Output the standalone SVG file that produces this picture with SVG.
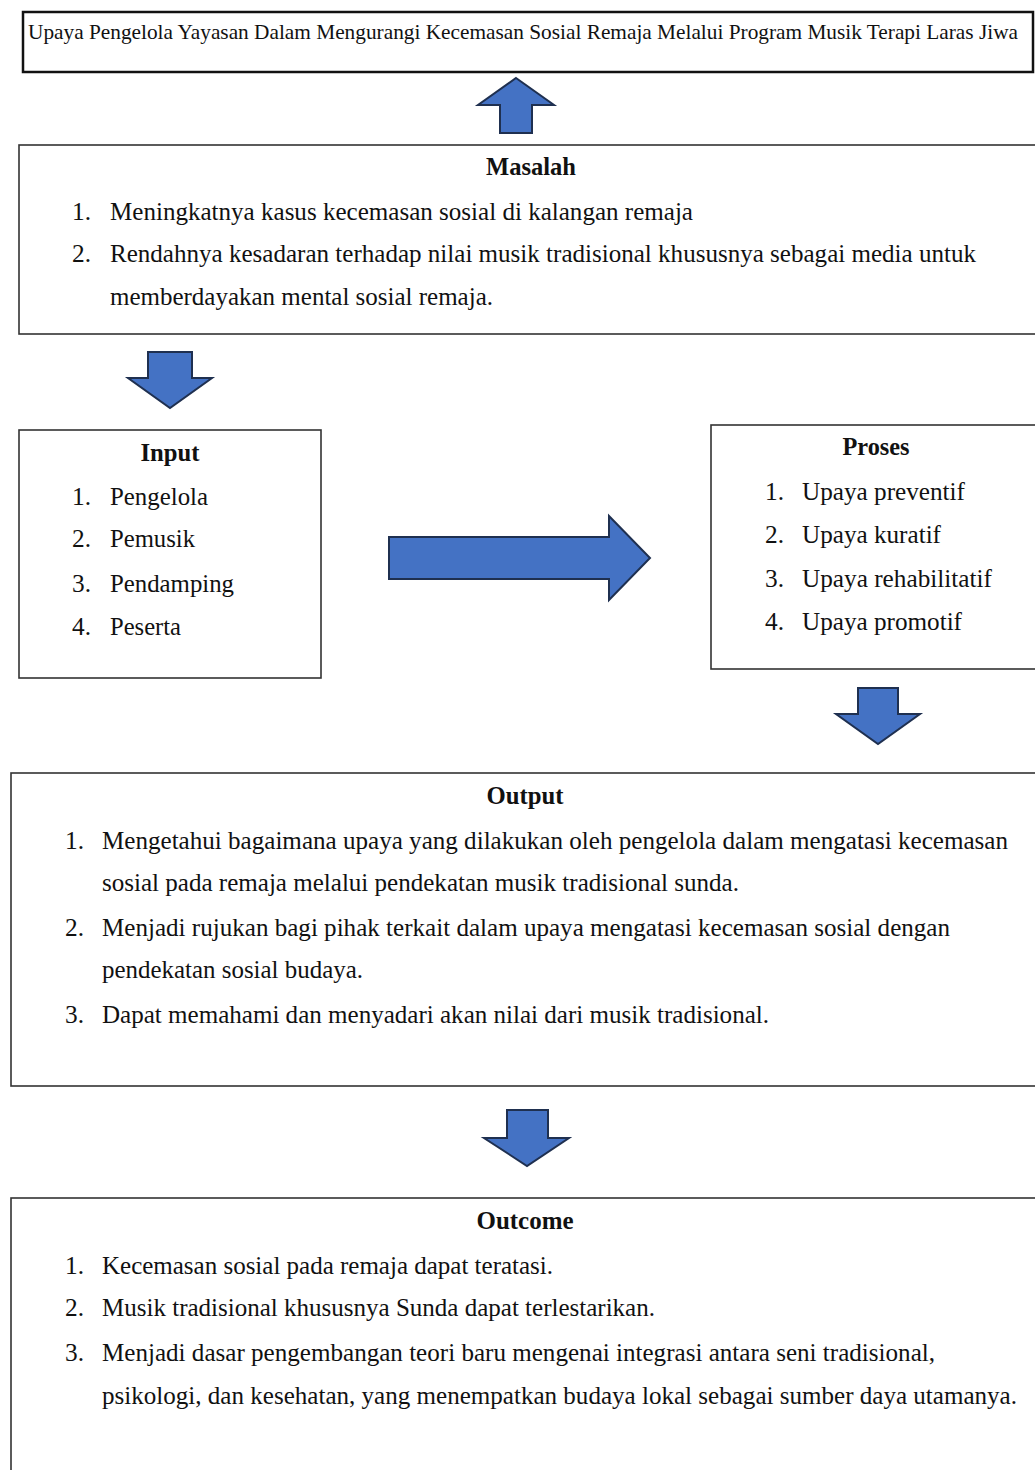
<svg xmlns="http://www.w3.org/2000/svg" width="1035" height="1470" viewBox="0 0 1035 1470">
<style>
.bx{fill:#fff;stroke:#333;stroke-width:1.6}
.ar{fill:#4472C4;stroke:#1F3050;stroke-width:2;stroke-linejoin:miter}
text{font-family:"Liberation Serif","Times New Roman",serif;fill:#111;font-size:25px}
.h{font-weight:bold;text-anchor:middle}
.t{font-size:21px}
</style>
<rect width="1035" height="1470" fill="#fff"/>
<g id="title">
<rect x="23" y="12" width="1010" height="60" fill="#fff" stroke="#111" stroke-width="2.5"/>
<text class="t" x="28" y="39" textLength="990" lengthAdjust="spacingAndGlyphs">Upaya Pengelola Yayasan Dalam Mengurangi Kecemasan Sosial Remaja Melalui Program Musik Terapi Laras Jiwa</text>
</g>
<g id="masalah">
<rect class="bx" x="19" y="145" width="1030" height="189"/>
<text class="h" x="531" y="175" textLength="90" lengthAdjust="spacingAndGlyphs">Masalah</text>
<text x="72" y="220" textLength="19" lengthAdjust="spacingAndGlyphs">1.</text><text x="110" y="220" textLength="583" lengthAdjust="spacingAndGlyphs">Meningkatnya kasus kecemasan sosial di kalangan remaja</text>
<text x="72" y="262" textLength="19" lengthAdjust="spacingAndGlyphs">2.</text><text x="110" y="262" textLength="866" lengthAdjust="spacingAndGlyphs">Rendahnya kesadaran terhadap nilai musik tradisional khususnya sebagai media untuk</text>
<text x="110" y="305" textLength="383" lengthAdjust="spacingAndGlyphs">memberdayakan mental sosial remaja.</text>
</g>
<g id="input">
<rect class="bx" x="19" y="430" width="302" height="248"/>
<text class="h" x="170" y="461" textLength="59" lengthAdjust="spacingAndGlyphs">Input</text>
<text x="72" y="505" textLength="19" lengthAdjust="spacingAndGlyphs">1.</text><text x="110" y="505" textLength="98" lengthAdjust="spacingAndGlyphs">Pengelola</text>
<text x="72" y="547" textLength="19" lengthAdjust="spacingAndGlyphs">2.</text><text x="110" y="547" textLength="85" lengthAdjust="spacingAndGlyphs">Pemusik</text>
<text x="72" y="592" textLength="19" lengthAdjust="spacingAndGlyphs">3.</text><text x="110" y="592" textLength="124" lengthAdjust="spacingAndGlyphs">Pendamping</text>
<text x="72" y="635" textLength="19" lengthAdjust="spacingAndGlyphs">4.</text><text x="110" y="635" textLength="71" lengthAdjust="spacingAndGlyphs">Peserta</text>
</g>
<g id="proses">
<rect class="bx" x="711" y="425" width="340" height="244"/>
<text class="h" x="876" y="455" textLength="67" lengthAdjust="spacingAndGlyphs">Proses</text>
<text x="765" y="500" textLength="19" lengthAdjust="spacingAndGlyphs">1.</text><text x="802" y="500" textLength="163" lengthAdjust="spacingAndGlyphs">Upaya preventif</text>
<text x="765" y="543" textLength="19" lengthAdjust="spacingAndGlyphs">2.</text><text x="802" y="543" textLength="139" lengthAdjust="spacingAndGlyphs">Upaya kuratif</text>
<text x="765" y="587" textLength="19" lengthAdjust="spacingAndGlyphs">3.</text><text x="802" y="587" textLength="190" lengthAdjust="spacingAndGlyphs">Upaya rehabilitatif</text>
<text x="765" y="630" textLength="19" lengthAdjust="spacingAndGlyphs">4.</text><text x="802" y="630" textLength="160" lengthAdjust="spacingAndGlyphs">Upaya promotif</text>
</g>
<g id="output">
<rect class="bx" x="11" y="773" width="1040" height="313"/>
<text class="h" x="525" y="804" textLength="77" lengthAdjust="spacingAndGlyphs">Output</text>
<text x="65" y="849" textLength="19" lengthAdjust="spacingAndGlyphs">1.</text><text x="102" y="849" textLength="906" lengthAdjust="spacingAndGlyphs">Mengetahui bagaimana upaya yang dilakukan oleh pengelola dalam mengatasi kecemasan</text>
<text x="102" y="891" textLength="637" lengthAdjust="spacingAndGlyphs">sosial pada remaja melalui pendekatan musik tradisional sunda.</text>
<text x="65" y="936" textLength="19" lengthAdjust="spacingAndGlyphs">2.</text><text x="102" y="936" textLength="848" lengthAdjust="spacingAndGlyphs">Menjadi rujukan bagi pihak terkait dalam upaya mengatasi kecemasan sosial dengan</text>
<text x="102" y="978" textLength="261" lengthAdjust="spacingAndGlyphs">pendekatan sosial budaya.</text>
<text x="65" y="1023" textLength="19" lengthAdjust="spacingAndGlyphs">3.</text><text x="102" y="1023" textLength="667" lengthAdjust="spacingAndGlyphs">Dapat memahami dan menyadari akan nilai dari musik tradisional.</text>
</g>
<g id="outcome">
<rect class="bx" x="11" y="1198" width="1040" height="290"/>
<text class="h" x="525" y="1229" textLength="97" lengthAdjust="spacingAndGlyphs">Outcome</text>
<text x="65" y="1274" textLength="19" lengthAdjust="spacingAndGlyphs">1.</text><text x="102" y="1274" textLength="451" lengthAdjust="spacingAndGlyphs">Kecemasan sosial pada remaja dapat teratasi.</text>
<text x="65" y="1316" textLength="19" lengthAdjust="spacingAndGlyphs">2.</text><text x="102" y="1316" textLength="553" lengthAdjust="spacingAndGlyphs">Musik tradisional khususnya Sunda dapat terlestarikan.</text>
<text x="65" y="1361" textLength="19" lengthAdjust="spacingAndGlyphs">3.</text><text x="102" y="1361" textLength="833" lengthAdjust="spacingAndGlyphs">Menjadi dasar pengembangan teori baru mengenai integrasi antara seni tradisional,</text>
<text x="102" y="1404" textLength="915" lengthAdjust="spacingAndGlyphs">psikologi, dan kesehatan, yang menempatkan budaya lokal sebagai sumber daya utamanya.</text>
</g>
<g id="connectors">
<polygon class="ar" points="516,78 554,105 532,105 532,133 500,133 500,105 478,105"/>
<polygon class="ar" points="148,352 192,352 192,378 212,378 170,408 128,378 148,378"/>
<polygon class="ar" points="389,537 609,537 609,516 650,558 609,600 609,579 389,579"/>
<polygon class="ar" points="858,688 898,688 898,714 920,714 878,744 836,714 858,714"/>
<polygon class="ar" points="507,1110 548,1110 548,1138 569,1138 527,1166 484,1138 507,1138"/>
</g>
</svg>
